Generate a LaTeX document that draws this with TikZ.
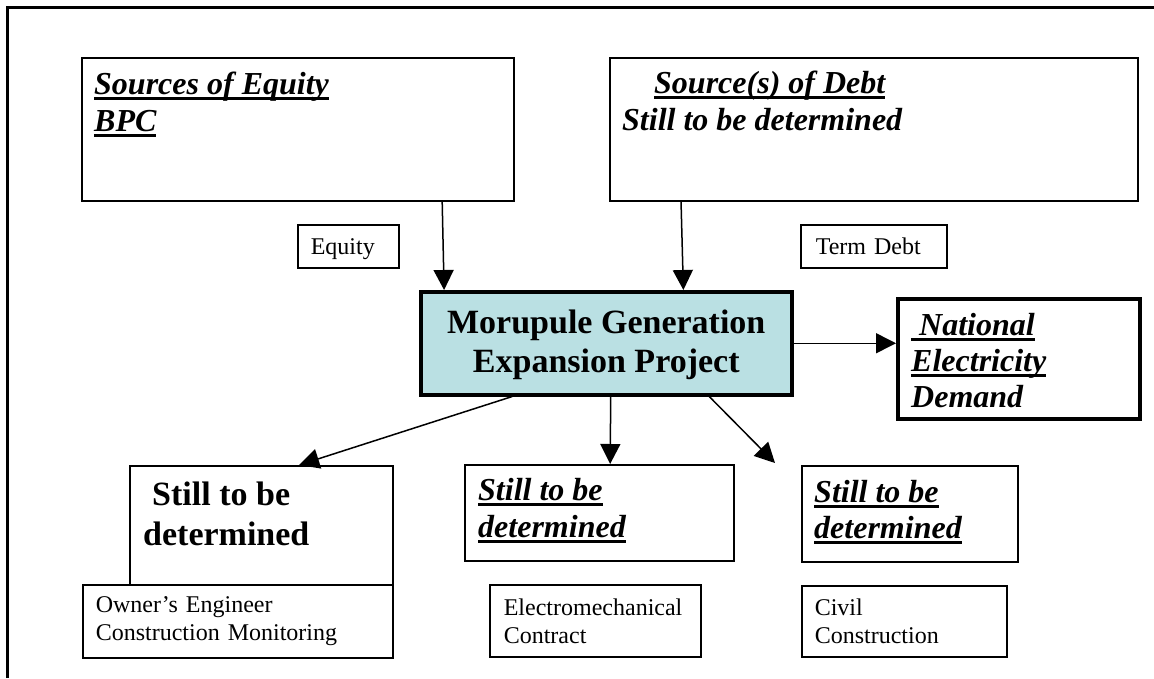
\documentclass[tikz,border=0pt]{standalone}
\usepackage{fontspec}
\setmainfont{Liberation Serif}
\usepackage{xcolor}
\usepackage{tikz}
\usetikzlibrary{arrows.meta,calc}

\definecolor{projfill}{RGB}{186,224,227}

% fat word-style underline
\newsavebox\fatulbox
\newcommand{\fatul}[1]{\sbox\fatulbox{#1}\rlap{\rule[-5.5pt]{\wd\fatulbox}{3pt}}\usebox\fatulbox}

\begin{document}
\begin{tikzpicture}[x=1pt,y=-1pt,
    box/.style={draw,line width=1.6pt,anchor=north west,inner sep=0pt},
    head/.style={anchor=base west,inner sep=0pt,align=left,
      font=\fontsize{32}{37}\selectfont\bfseries\itshape},
    tag/.style={draw,fill=white,line width=1.6pt,anchor=north west,inner xsep=13pt,
      inner ysep=0pt,align=left,font=\fontsize{24}{28}\selectfont},
    arr/.style={line width=1.5pt,-{Triangle[length=20pt,width=20pt]}}]
    \useasboundingbox (0,0) rectangle (1154,678);
    \draw[line width=2.5pt] (7.5,678) -- (7.5,7.5) -- (1154,7.5);

    % sources (text nodes sit on their last baseline)
    \node[box,minimum width=432,minimum height=143] (eqsrc) at (81,57) {};
    \node[head] (eqtxt) at (94,131) {\fatul{Sources of Equity}\\\fatul{BPC}};
    \node[box,minimum width=528,minimum height=143] (debtsrc) at (609,57) {};
    \node[head] (debttxt) at (622,130) {\hspace*{32pt}\fatul{Source(s) of Debt}\\Still to be determined};
    \node[tag,text width=75,text depth=0pt,minimum height=43] (equity) at (297,224) {Equity};
    \node[tag,inner xsep=15pt,text width=116,text depth=0pt,minimum height=43] (termdebt) at (800,224) {Term Debt};

    % project
    \node[draw,fill=projfill,line width=3.5pt,anchor=north west,inner sep=0pt,
      minimum width=371,minimum height=103,align=center,text height=66pt,text depth=7pt,
      font=\fontsize{34}{39}\selectfont\bfseries] (project) at (419,290)
      {Morupule Generation\\Expansion Project};
    \node[draw,line width=4pt,anchor=north west,inner sep=0pt,
      minimum width=242,minimum height=120] (demand) at (896,297) {};
    \node[head,font=\fontsize{32}{36}\selectfont\bfseries\itshape] (demandtxt) at (911,407)
      {\fatul{\ National}\\\fatul{Electricity}\\Demand};

    % contracts
    \node[box,minimum width=263,minimum height=119] (owner) at (129,465) {};
    \node[head,font=\fontsize{34}{40}\selectfont\bfseries] (ownertxt) at (143,545)
      {\hspace*{9pt}Still to be\\determined};
    \node[tag,text width=284,minimum height=73] (ownertag) at (82,584)
      {Owner’s Engineer\\Construction Monitoring};
    \node[box,minimum width=269,minimum height=96] (epc) at (464,464) {};
    \node[head] (epctxt) at (478,537) {\fatul{Still to be}\\\fatul{determined}};
    \node[tag,inner xsep=14pt,text width=183,minimum height=72] (epctag) at (489,584)
      {Electromechanical\\Contract};
    \node[box,minimum width=216,minimum height=96] (civil) at (801,465) {};
    \node[head,font=\fontsize{32}{36}\selectfont\bfseries\itshape] (civiltxt) at (814,538)
      {\fatul{Still to be}\\\fatul{determined}};
    \node[tag,text width=179,minimum height=71] (civiltag) at (801,585)
      {Civil\\Construction};
    \coordinate (civiltip) at (775,463);

    % money in, power out
    \draw[arr] ($(eqsrc.south west)!0.833!(eqsrc.south east)$) -- ($(project.north west)!0.067!(project.north east)$);
    \draw[arr] ($(debtsrc.south west)!0.136!(debtsrc.south east)$) -- ($(project.north west)!0.706!(project.north east)$);
    \draw[arr] (project.east) -- (project.east -| demand.west);
    \draw[arr] ($(project.south west)!0.249!(project.south east)$) -- ($(owner.north west)!0.643!(owner.north east)$);
    \draw[arr] ($(project.south west)!0.512!(project.south east)$) -- ($(epc.north west)!0.54!(epc.north east)$);
    \draw[arr] ($(project.south west)!0.775!(project.south east)$) -- (civiltip);
\end{tikzpicture}
\end{document}
